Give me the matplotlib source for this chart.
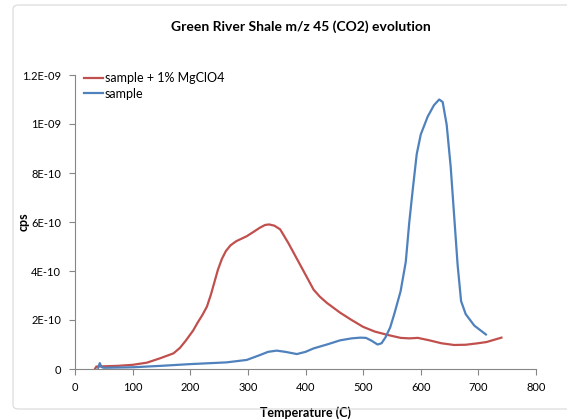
import matplotlib
matplotlib.use('Agg')
import matplotlib.pyplot as plt
from matplotlib.patches import FancyBboxPatch

plt.rcParams['font.family'] = ['Lato', 'DejaVu Sans']

# sample + 1% MgClO4
temp_mg = [35, 37, 50, 75, 100, 125, 148, 171, 182, 192, 205, 213, 221, 229, 236, 242,
           248, 255, 262, 270, 280, 290, 298, 310, 321, 330, 337, 346, 356, 370, 385,
           400, 414, 425, 437, 460, 480, 500, 520, 541, 565, 580, 595, 615, 636, 658,
           678, 699, 714, 740]
cps_mg = [2e-12, 1e-11, 1.1e-11, 1.3e-11, 1.7e-11, 2.6e-11, 4.4e-11, 6.4e-11, 8.6e-11,
          1.15e-10, 1.57e-10, 1.9e-10, 2.2e-10, 2.55e-10, 3.05e-10, 3.55e-10, 4.05e-10,
          4.5e-10, 4.82e-10, 5.05e-10, 5.22e-10, 5.33e-10, 5.42e-10, 5.6e-10, 5.77e-10,
          5.88e-10, 5.9e-10, 5.85e-10, 5.7e-10, 5.15e-10, 4.5e-10, 3.85e-10, 3.24e-10,
          2.95e-10, 2.7e-10, 2.3e-10, 2.0e-10, 1.72e-10, 1.53e-10, 1.4e-10, 1.27e-10,
          1.25e-10, 1.27e-10, 1.17e-10, 1.05e-10, 9.8e-11, 9.9e-11, 1.05e-10, 1.1e-10,
          1.28e-10]

# sample
temp_s = [40, 43, 46, 50, 100, 150, 200, 263, 298, 321, 335, 350, 365, 385, 400, 414,
          440, 460, 480, 495, 505, 515, 525, 532, 539, 547, 554, 565, 574, 580, 586, 593,
          600, 612, 623, 632, 638, 645, 652, 658, 664, 670, 678, 693, 713]
cps_s = [5e-12, 2.4e-11, 8e-12, 5e-12, 7e-12, 1.3e-11, 2e-11, 2.7e-11, 3.7e-11, 5.7e-11,
         7.0e-11, 7.5e-11, 7.0e-11, 6.1e-11, 7.0e-11, 8.4e-11, 1.02e-10, 1.17e-10,
         1.25e-10, 1.28e-10, 1.27e-10, 1.15e-10, 1.0e-10, 1.05e-10, 1.3e-10, 1.7e-10,
         2.24e-10, 3.17e-10, 4.37e-10, 5.97e-10, 7.3e-10, 8.77e-10, 9.57e-10, 1.03e-09,
         1.077e-09, 1.1e-09, 1.09e-09, 9.97e-10, 8.24e-10, 6.24e-10, 4.24e-10, 2.77e-10,
         2.24e-10, 1.77e-10, 1.41e-10]

xticks = [0, 100, 200, 300, 400, 500, 600, 700, 800]
yticks = [0, 2e-10, 4e-10, 6e-10, 8e-10, 1e-09, 1.2e-09]
ylabels = ['0', '2E-10', '4E-10', '6E-10', '8E-10', '1E-09', '1.2E-09']

fig = plt.figure(figsize=(5.67, 4.19), dpi=100)

# outer chart frame
frame = FancyBboxPatch((13 / 567, 10 / 419), 600 / 567, 404 / 419,
                       boxstyle='round,pad=0,rounding_size=0.01',
                       transform=fig.transFigure, facecolor='none',
                       edgecolor='#d9d9d9', linewidth=0.8)
fig.patches.append(frame)

ax = fig.add_axes([75 / 567, 50 / 419, 461 / 567, 294 / 419])

ax.plot(temp_mg, cps_mg, color='#C0504D', linewidth=1.6, label='sample + 1% MgClO4')
ax.plot(temp_s, cps_s, color='#4F81BD', linewidth=1.6, label='sample')

ax.set_xlim(0, 800)
ax.set_ylim(0, 1.2e-09)
ax.set_xticks(xticks)
ax.set_xticklabels([str(t) for t in xticks])
ax.set_yticks(yticks)
ax.set_yticklabels(ylabels)

for side in ['top', 'right']:
    ax.spines[side].set_visible(False)
for side in ['left', 'bottom']:
    ax.spines[side].set_color('#868686')
    ax.spines[side].set_linewidth(0.8)
ax.tick_params(axis='both', colors='#868686', labelcolor='black', labelsize=8,
               direction='out', length=4, width=0.8)
ax.tick_params(axis='x', pad=5)
ax.tick_params(axis='y', pad=6)

ax.set_xlabel('Temperature (C)', fontsize=9, fontweight='bold', labelpad=10)
ax.set_ylabel('cps', fontsize=9, fontweight='bold')
ax.yaxis.set_label_coords((30 - 75) / 461, 0.5)
fig.text(0.53, 0.937, 'Green River Shale m/z 45 (CO2) evolution', ha='center',
         va='center', fontsize=10, fontweight='bold')

ax.legend(loc='upper left', bbox_to_anchor=(0.0, 1.04), frameon=False, fontsize=9,
          handlelength=1.5, handletextpad=0.2, labelspacing=0.3, borderaxespad=0.3)

fig.savefig('out.png', dpi=100)
